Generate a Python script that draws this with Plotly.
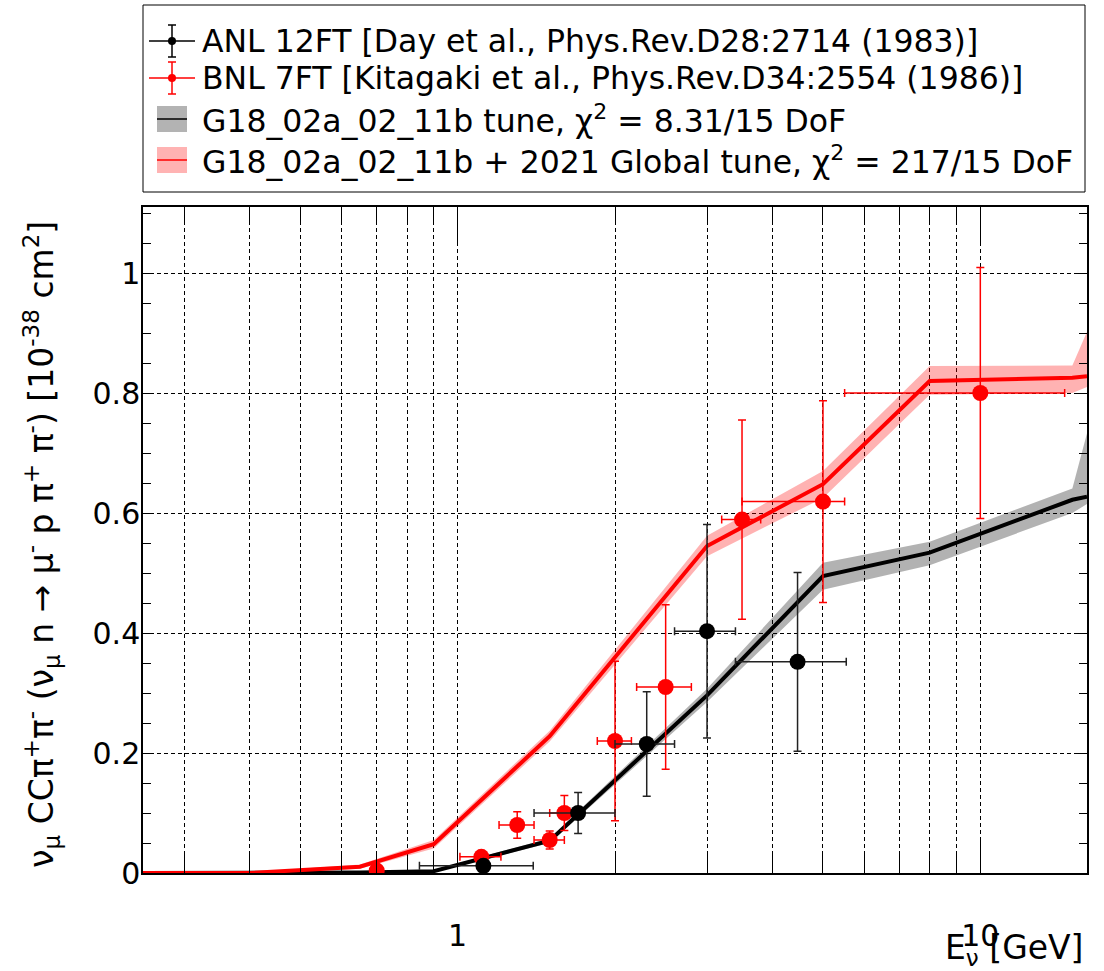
import plotly.graph_objects as go

# ---- Model predictions: nu_mu n -> mu- p pi+ pi- cross section [1e-38 cm^2] ----
e_model = [0.25, 0.4, 0.65, 0.9, 1.5, 3.0, 5.0, 8.0, 15.0, 16.0]

g18_central = [0.0, 0.0, 0.001, 0.003, 0.054, 0.296, 0.495, 0.534, 0.622, 0.627]
g18_upper = [0.0, 0.0, 0.002, 0.005, 0.058, 0.307, 0.517, 0.552, 0.641, 0.733]
g18_lower = [0.0, 0.0, 0.0, 0.001, 0.050, 0.285, 0.472, 0.513, 0.600, 0.615]

glob_central = [0.0, 0.0, 0.0105, 0.048, 0.228, 0.545, 0.648, 0.820, 0.8255, 0.828]
glob_upper = [0.0, 0.001, 0.014, 0.055, 0.237, 0.562, 0.670, 0.845, 0.846, 0.902]
glob_lower = [0.0, 0.0, 0.007, 0.041, 0.219, 0.528, 0.625, 0.797, 0.800, 0.810]

# ---- ANL 12FT data ----
anl_e = [1.12, 1.70, 2.30, 3.00, 4.47]
anl_e_err = [0.275, 0.30, 0.30, 0.40, 1.07]
anl_xsec = [0.012, 0.100, 0.215, 0.403, 0.352]
anl_xsec_err = [0.006, 0.034, 0.087, 0.178, 0.149]

# ---- BNL 7FT data ----
bnl_e = [0.70, 1.11, 1.30, 1.50, 1.60, 2.00, 2.50, 3.50, 5.00, 10.0]
bnl_e_err_lo = [0.0, 0.10, 0.10, 0.10, 0.10, 0.15, 0.30, 0.30, 1.50, 4.5]
bnl_e_err_hi = [0.0, 0.10, 0.10, 0.10, 0.10, 0.15, 0.30, 0.30, 0.50, 4.5]
bnl_xsec = [0.004, 0.027, 0.080, 0.055, 0.100, 0.220, 0.310, 0.589, 0.619, 0.800]
bnl_xsec_err = [0.004, 0.008, 0.022, 0.015, 0.029, 0.133, 0.137, 0.166, 0.168, 0.209]

# ---- tick positions ----
x_major = [1, 10]
x_major_text = ["1", "10"]
x_minor = [0.3, 0.4, 0.5, 0.6, 0.7, 0.8, 0.9, 2, 3, 4, 5, 6, 7, 8, 9]

legend_labels = [
    "ANL 12FT [Day et al., Phys.Rev.D28:2714 (1983)]",
    "BNL 7FT [Kitagaki et al., Phys.Rev.D34:2554 (1986)]",
    "G18_02a_02_11b tune, χ<sup>2</sup> = 8.31/15 DoF",
    "G18_02a_02_11b + 2021 Global tune, χ<sup>2</sup> = 217/15 DoF",
]

FONT = "DejaVu Sans"
W, H = 1104, 971
ML, MR, MT, MB = 143, 17, 207, 98
PW, PH = W - ML - MR, H - MT - MB


def px(x):
    return (x - ML) / PW


def py(y):
    return (H - MB - y) / PH


def band(xs, lo, hi, color):
    return go.Scatter(
        x=list(xs) + list(xs)[::-1],
        y=list(hi) + list(lo)[::-1],
        fill="toself", fillcolor=color, mode="lines",
        line=dict(width=0), hoverinfo="skip", showlegend=False,
    )


fig = go.Figure()

fig.add_trace(band(e_model, g18_lower, g18_upper, "rgba(0,0,0,0.3)"))
fig.add_trace(go.Scatter(x=e_model, y=g18_central, mode="lines",
                         line=dict(color="black", width=4), showlegend=False))
fig.add_trace(band(e_model, glob_lower, glob_upper, "rgba(255,0,0,0.3)"))
fig.add_trace(go.Scatter(x=e_model, y=glob_central, mode="lines",
                         line=dict(color="red", width=4), showlegend=False))

fig.add_trace(go.Scatter(
    x=bnl_e, y=bnl_xsec, mode="markers",
    marker=dict(color="red", size=16),
    error_x=dict(type="data", symmetric=False, array=bnl_e_err_hi,
                 arrayminus=bnl_e_err_lo, color="red", thickness=1.5, width=4),
    error_y=dict(type="data", array=bnl_xsec_err, color="red", thickness=1.5, width=4),
    showlegend=False,
))
fig.add_trace(go.Scatter(
    x=anl_e, y=anl_xsec, mode="markers",
    marker=dict(color="black", size=16),
    error_x=dict(type="data", array=anl_e_err, color="#222", thickness=1.5, width=4),
    error_y=dict(type="data", array=anl_xsec_err, color="#222", thickness=1.5, width=4),
    showlegend=False,
))

grid = dict(showgrid=True, gridcolor="black", gridwidth=1, griddash="4px,3px")

fig.update_xaxes(
    type="log", range=[-0.60206, 1.20412],
    tickmode="array", tickvals=x_major, ticktext=x_major_text,
    ticks="inside", ticklen=36, tickwidth=1, tickcolor="black",
    ticklabelstandoff=35,
    minor=dict(tickmode="array", tickvals=x_minor, ticks="inside", ticklen=18,
               tickcolor="black", tickwidth=1, **grid),
    showline=True, linecolor="black", linewidth=1.5, mirror="allticks",
    zeroline=False,
    tickfont=dict(family=FONT, size=30, color="black"),
    **grid,
)
fig.update_yaxes(
    range=[0, 1.11], tickmode="linear", tick0=0, dtick=0.2,
    ticks="inside", ticklen=10, tickwidth=1, tickcolor="black",
    ticklabelstandoff=-5,
    minor=dict(dtick=0.05, ticks="inside", ticklen=8, tickcolor="black",
               tickwidth=1, showgrid=False),
    showline=True, linecolor="black", linewidth=1.5, mirror="allticks",
    zeroline=False,
    tickfont=dict(family=FONT, size=30, color="black"),
    **grid,
)

shapes = []
annotations = []

# legend frame
shapes.append(dict(type="rect", xref="paper", yref="paper",
                   x0=px(143), x1=px(1085), y0=py(192), y1=py(5),
                   line=dict(color="black", width=1), fillcolor="white", layer="above"))

# error-bar style legend symbols
for yc, col in [(41, "black"), (78, "red")]:
    shapes.append(dict(type="line", xref="paper", yref="paper",
                       x0=px(149), x1=px(195), y0=py(yc), y1=py(yc),
                       line=dict(color=col, width=1.5), layer="above"))
    shapes.append(dict(type="line", xref="paper", yref="paper",
                       x0=px(172), x1=px(172), y0=py(yc - 16), y1=py(yc + 16),
                       line=dict(color=col, width=1.5), layer="above"))
    for yy in (yc - 16, yc + 16):
        shapes.append(dict(type="line", xref="paper", yref="paper",
                           x0=px(168), x1=px(176), y0=py(yy), y1=py(yy),
                           line=dict(color=col, width=1.5), layer="above"))
    shapes.append(dict(type="circle", xref="paper", yref="paper",
                       x0=px(168), x1=px(176), y0=py(yc - 4), y1=py(yc + 4),
                       fillcolor=col, line=dict(color=col, width=0), layer="above"))

# band style legend symbols
for yc, fill, col in [(119, "#b3b3b3", "black"), (160, "#ffb3b3", "red")]:
    shapes.append(dict(type="rect", xref="paper", yref="paper",
                       x0=px(157), x1=px(187), y0=py(yc + 13), y1=py(yc - 13),
                       fillcolor=fill, line=dict(width=0), layer="above"))
    shapes.append(dict(type="line", xref="paper", yref="paper",
                       x0=px(157), x1=px(187), y0=py(yc), y1=py(yc),
                       line=dict(color=col, width=1.5), layer="above"))

for yc, label in zip([41, 78, 119, 160], legend_labels):
    annotations.append(dict(
        xref="paper", yref="paper", x=px(200), y=py(yc),
        xanchor="left", yanchor="middle", text=label, showarrow=False,
        font=dict(family=FONT, size=31.5, color="black"),
    ))

# axis titles
annotations.append(dict(
    xref="paper", yref="paper", x=px(41), y=py(545), xanchor="center", yanchor="middle",
    textangle=-90, showarrow=False,
    text="ν<sub>μ</sub> CCπ<sup>+</sup>π<sup>-</sup> (ν<sub>μ</sub> n → μ<sup>-</sup> p "
         "π<sup>+</sup> π<sup>-</sup>) [10<sup>-38</sup> cm<sup>2</sup>]",
    font=dict(family=FONT, size=33, color="black"),
))
annotations.append(dict(
    xref="paper", yref="paper", x=px(1085), y=py(949), xanchor="right", yanchor="middle",
    showarrow=False, text="E<sub>ν</sub> [GeV]",
    font=dict(family=FONT, size=33, color="black"),
))

fig.update_layout(
    width=W, height=H, autosize=False,
    margin=dict(l=ML, r=MR, t=MT, b=MB, pad=0),
    paper_bgcolor="white", plot_bgcolor="white",
    showlegend=False, shapes=shapes, annotations=annotations,
    font=dict(family=FONT, color="black"),
)

fig.write_html("out.html")
